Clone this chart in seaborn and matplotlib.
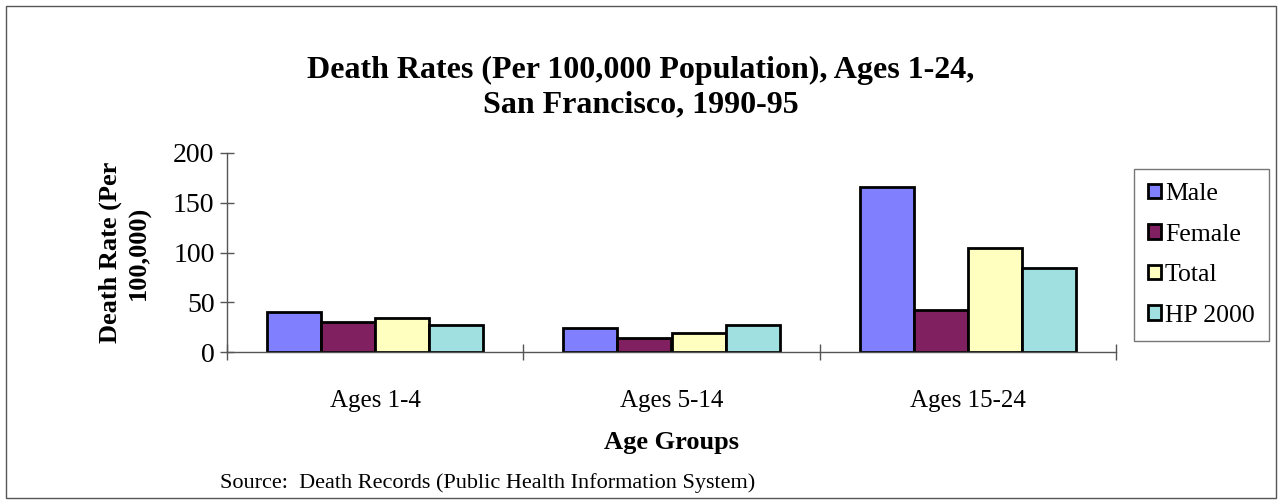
import numpy as np
import pandas as pd
import seaborn as sns
import matplotlib.pyplot as plt
from matplotlib.patches import Rectangle

age_groups = ['Ages 1-4', 'Ages 5-14', 'Ages 15-24']
series = ['Male', 'Female', 'Total', 'HP 2000']
male = [40, 24, 166]
female = [30, 14, 42]
total = [34, 19, 105]
hp2000 = [27, 27, 84]
colors = ['#8080FF', '#802060', '#FFFFC0', '#A0E0E0']

df = pd.DataFrame({
    'group': age_groups * 4,
    'series': np.repeat(series, 3),
    'rate': male + female + total + hp2000,
})

sns.set_style('white', {'xtick.bottom': True, 'ytick.left': True,
                        'text.color': 'black', 'xtick.color': 'black',
                        'ytick.color': 'black', 'axes.labelcolor': 'black'})
plt.rcParams['font.family'] = ['Liberation Serif', 'DejaVu Serif']

fig = plt.figure(figsize=(12.82, 5.04), dpi=100)
ax = fig.add_axes([227 / 1282, 1 - 352 / 504, (1116 - 227) / 1282, (352 - 153) / 504])

sns.barplot(data=df, x='group', y='rate', hue='series', order=age_groups,
            hue_order=series, palette=colors, width=0.73, edgecolor='black',
            linewidth=2, saturation=1, ax=ax)

ax.set_xlim(-0.5, 2.5)
ax.set_ylim(0, 200)
ax.set_yticks([0, 50, 100, 150, 200])
ax.tick_params(axis='y', direction='inout', length=10, width=1, color='#555555',
               labelcolor='black', labelsize=20, pad=4)
ax.set_xticks([0, 1, 2])
ax.set_xticklabels(age_groups)
ax.set_xticks([-0.5, 0.5, 1.5, 2.5], minor=True)
ax.tick_params(axis='x', which='major', length=0, labelsize=18, labelcolor='black', pad=27)
ax.tick_params(axis='x', which='minor', direction='inout', length=11, width=1,
               color='#555555')
for side in ['top', 'right']:
    ax.spines[side].set_visible(False)
for side in ['left', 'bottom']:
    ax.spines[side].set_color('#555555')
    ax.spines[side].set_linewidth(1)

ax.set_xlabel('Age Groups', fontsize=19, fontweight='bold', labelpad=14, color='black')
ax.set_ylabel('Death Rate (Per\n100,000)', fontsize=19, fontweight='bold',
              labelpad=16, linespacing=1.3, color='black')

leg = ax.legend(loc='upper left', bbox_to_anchor=(1134 / 1282, 1 - 169 / 504),
                bbox_transform=fig.transFigure, fontsize=18.5, frameon=True,
                fancybox=False, edgecolor='#555555', handlelength=0.5,
                handleheight=0.5, handletextpad=0.15, labelspacing=0.72,
                borderpad=0.55, borderaxespad=0)
leg.get_frame().set_linewidth(1)
for t in leg.get_texts():
    t.set_color('black')

fig.text(0.5, 1 - 88 / 504, 'Death Rates (Per 100,000 Population), Ages 1-24,\nSan Francisco, 1990-95',
         ha='center', va='center', fontsize=23, fontweight='bold', linespacing=1.25,
         color='black')
fig.text(220 / 1282, 1 - 483 / 504, 'Source:  Death Records (Public Health Information System)',
         ha='left', va='center', fontsize=16, color='black')

fig.add_artist(Rectangle((6 / 1282, 6 / 504), 1 - 12 / 1282, 1 - 12 / 504,
                         transform=fig.transFigure, fill=False,
                         edgecolor='#555555', linewidth=1))

fig.savefig('out.png', dpi=100)
